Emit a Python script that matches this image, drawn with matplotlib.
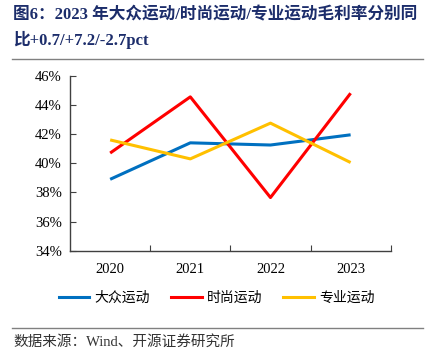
import matplotlib
matplotlib.use("Agg")
import matplotlib.pyplot as plt
from matplotlib.lines import Line2D

plt.rcParams['font.family'] = ['Liberation Serif', 'Noto Sans CJK SC', 'DejaVu Sans']

# data
years = ["2020", "2021", "2022", "2023"]
mass_sport = [38.9, 41.4, 41.25, 41.95]      # 大众运动
fashion_sport = [40.7, 44.55, 37.65, 44.8]   # 时尚运动
pro_sport = [41.6, 40.3, 42.75, 40.05]       # 专业运动
yticks = [34, 36, 38, 40, 42, 44, 46]

series = [
    ("大众运动", mass_sport, "#0070C0"),
    ("时尚运动", fashion_sport, "#FF0000"),
    ("专业运动", pro_sport, "#FFC000"),
]

fig = plt.figure(figsize=(4.38, 3.64), dpi=100)
ax = fig.add_axes([0.160, 0.311, 0.732, 0.481])

x = list(range(len(years)))
for name, vals, color in series:
    ax.plot(x, vals, color=color, linewidth=2.2, label=name, solid_capstyle="butt")

ax.set_xlim(-0.5, len(years) - 0.5)
ax.set_ylim(34, 46)
ax.set_yticks(yticks)
ax.set_yticklabels([f"{v}%" for v in yticks])
ax.set_xticks(x)
ax.set_xticklabels(years)
ax.set_xticks([i + 0.5 for i in x], minor=True)
ax.tick_params(axis="x", which="major", length=0, pad=9, labelsize=10.5)
ax.tick_params(axis="x", which="minor", direction="in", length=4, width=0.8, color="#404040")
ax.tick_params(axis="y", direction="in", length=4, width=0.8, color="#404040", pad=6, labelsize=10.5)

for side in ["top", "right"]:
    ax.spines[side].set_visible(False)
for side in ["left", "bottom"]:
    ax.spines[side].set_color("#404040")
    ax.spines[side].set_linewidth(1.0)

# title
title_color = "#1C2D6B"
fig.text(0.030, 0.958, "图6：2023 年大众运动/时尚运动/专业运动毛利率分别同",
         fontsize=12, fontweight="bold", color=title_color, va="center", ha="left")
fig.text(0.030, 0.890, "比+0.7/+7.2/-2.7pct",
         fontsize=12, fontweight="bold", color=title_color, va="center", ha="left")
fig.add_artist(Line2D([0.027, 0.966], [1 - 58.5 / 364] * 2, color="#808080", linewidth=1.0))

# legend
handles = [Line2D([], [], color=c, linewidth=2.2) for _, _, c in series]
fig.legend(handles, [n for n, _, _ in series], loc="center",
           bbox_to_anchor=(0.495, 1 - 298 / 364), ncol=3, frameon=False,
           handlelength=2.2, handletextpad=0.4, columnspacing=1.5,
           prop={"family": ["Noto Sans CJK SC"], "size": 10})

fig.add_artist(Line2D([0.027, 0.966], [1 - 328 / 364] * 2, color="#808080", linewidth=1.0))
fig.text(0.030, 1 - 342 / 364, "数据来源：Wind、开源证券研究所", fontsize=10.5,
         color="#333333", va="center", ha="left")

fig.savefig("out.png", dpi=100)
